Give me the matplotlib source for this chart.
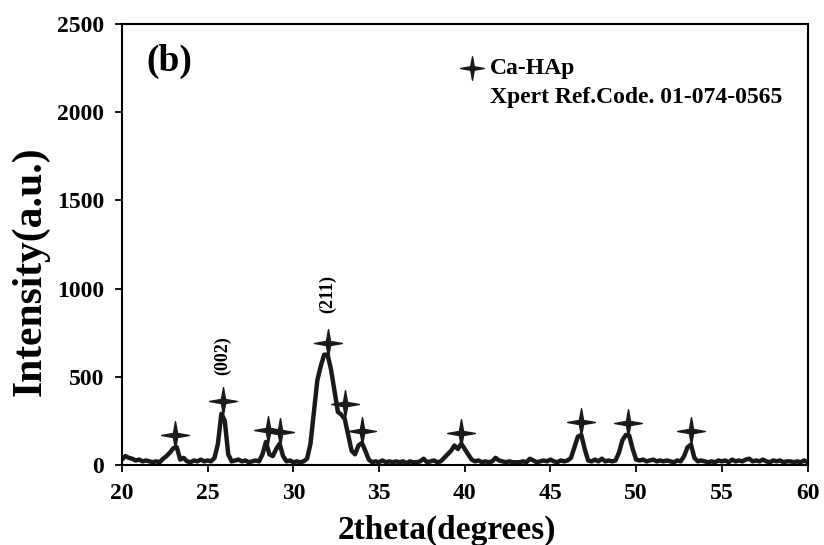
import matplotlib
matplotlib.use("Agg")
import matplotlib.pyplot as plt
from matplotlib.path import Path
import numpy as np

plt.rcParams['font.family'] = ['Liberation Serif', 'DejaVu Serif']
plt.rcParams['font.weight'] = 'bold'

# XRD pattern, 2theta 20..60 in steps of 0.2 degrees
two_theta = np.round(np.arange(20.0, 60.01, 0.2), 1)
intensity = [
    30, 50, 40, 35, 25, 30, 20, 25, 20, 15,
    20, 15, 35, 50, 70, 95, 100, 30, 40, 20,
    15, 25, 20, 30, 20, 25, 20, 40, 120, 290,
    250, 60, 20, 25, 30, 20, 25, 15, 20, 25,
    20, 60, 130, 60, 50, 90, 120, 50, 20, 25,
    15, 20, 15, 20, 35, 120, 300, 480, 560, 625,
    625, 540, 420, 300, 285, 260, 170, 80, 60, 110,
    125, 80, 30, 15, 20, 15, 25, 15, 20, 15,
    20, 15, 20, 10, 20, 15, 15, 20, 35, 15,
    20, 25, 15, 20, 40, 60, 80, 110, 90, 120,
    90, 60, 30, 20, 25, 15, 20, 15, 20, 40,
    25, 20, 15, 20, 15, 15, 15, 20, 15, 35,
    25, 15, 20, 25, 20, 30, 20, 15, 25, 20,
    25, 40, 100, 160, 170, 90, 25, 20, 30, 20,
    35, 20, 25, 20, 25, 70, 140, 170, 165, 90,
    30, 25, 30, 20, 25, 30, 20, 25, 20, 25,
    20, 15, 25, 20, 50, 100, 115, 40, 20, 25,
    20, 15, 20, 15, 25, 20, 25, 15, 30, 20,
    25, 20, 30, 35, 20, 25, 20, 30, 20, 15,
    25, 20, 25, 15, 20, 20, 15, 20, 15, 25,
    15,
]

# Ca-HAp reflections marked with stars
peak_pos = [23.1, 25.9, 28.5, 29.2, 32.05, 33.0, 34.0, 39.8, 46.8, 49.5, 53.2]
peak_mark = [170, 360, 200, 185, 693, 345, 193, 182, 245, 240, 190]

# miller indices written above two peaks
hkl_labels = ["(002)", "(211)"]
hkl_pos = [25.9, 32.0]
hkl_y = [620, 970]

# four pointed star marker
r = 0.15
star = Path([(0, 1), (r, r), (1, 0), (r, -r), (0, -1), (-r, -r), (-1, 0), (-r, r), (0, 1)],
            [Path.MOVETO] + [Path.LINETO] * 7 + [Path.CLOSEPOLY])

fig = plt.figure(figsize=(8.24, 5.45), dpi=100)
ax = fig.add_axes([0.148, 0.147, 0.832, 0.809])

ax.plot(two_theta, intensity, color="#1a1a1a", lw=3.2, solid_joinstyle="round")
ax.plot(peak_pos, peak_mark, linestyle="none", marker=star, ms=20, color="#1a1a1a")

for lab, x, y in zip(hkl_labels, hkl_pos, hkl_y):
    ax.text(x, y, lab, rotation=90, ha="center", va="center", fontsize=13, fontweight="bold")

ax.set_xlim(20, 60)
ax.set_ylim(0, 2500)
ax.set_xticks(range(20, 61, 5))
ax.set_yticks(range(0, 2501, 500))
ax.tick_params(direction="out", length=5, width=1.3, labelsize=17, top=False, right=False)
ax.tick_params(axis="x", pad=8)
ax.tick_params(axis="y", pad=8)
for lab in ax.get_xticklabels() + ax.get_yticklabels():
    lab.set_fontweight("bold")
for sp in ax.spines.values():
    sp.set_linewidth(1.5)

ax.set_xlabel("2theta(degrees)", fontsize=24, fontweight="bold")
ax.xaxis.set_label_coords(0.474, -0.112)
ax.set_ylabel("Intensity(a.u.)", fontsize=30, fontweight="bold")
ax.yaxis.set_label_coords(-0.105, 0.44)

ax.text(0.035, 0.914, "(b)", transform=ax.transAxes, fontsize=27, fontweight="bold", va="center")
ax.plot([0.511], [0.9], transform=ax.transAxes, marker=star, ms=17, color="#1a1a1a", linestyle="none")
ax.text(0.537, 0.9, "Ca-HAp", transform=ax.transAxes, fontsize=17, fontweight="bold", va="center")
ax.text(0.537, 0.834, "Xpert Ref.Code. 01-074-0565", transform=ax.transAxes, fontsize=17,
        fontweight="bold", va="center")

fig.savefig("out.png", dpi=100)
